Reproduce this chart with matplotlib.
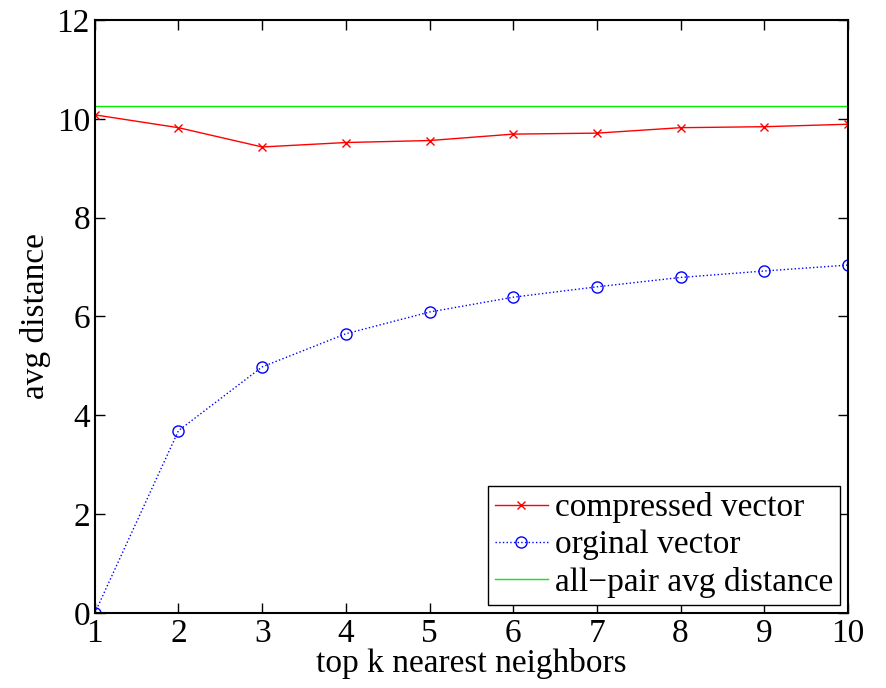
import numpy as np
import matplotlib
matplotlib.use("Agg")
import matplotlib.pyplot as plt

# values
k = [1, 2, 3, 4, 5, 6, 7, 8, 9, 10]
compressed = [10.08, 9.82, 9.43, 9.52, 9.56, 9.69, 9.71, 9.82, 9.84, 9.89]
original = [0.0, 3.69, 4.98, 5.65, 6.09, 6.39, 6.60, 6.79, 6.92, 7.04]
all_pair = 10.26

plt.rcParams['font.family'] = ['Liberation Serif', 'DejaVu Serif']

fig = plt.figure(figsize=(8.86, 6.88), dpi=100)
ax = fig.add_axes([0.107, 0.109, 0.85, 0.862])

ax.plot(k, compressed, color='red', marker='x', markersize=6, linewidth=1,
        label='compressed vector')
ax.plot(k, original, color='blue', linestyle=':', marker='o', markersize=8,
        markerfacecolor='none', linewidth=1, label='orginal vector')
ax.plot([k[0], k[-1]], [all_pair, all_pair], color='#00ee00', linewidth=1,
        label='all\u2212pair avg distance')

ax.set_xlim(1, 10)
ax.set_ylim(0, 12)
ax.set_xticks(k)
ax.set_yticks(np.arange(0, 13, 2))
ax.tick_params(direction='in', top=True, right=True, labelsize=24, length=7, width=1)
ax.tick_params(axis='x', pad=4)
for s in ax.spines.values():
    s.set_linewidth(1.5)

ax.set_xlabel('top k nearest neighbors', fontsize=24, labelpad=-1)
ax.set_ylabel('avg distance', fontsize=24, labelpad=4)

leg = ax.legend(loc='lower right', fontsize=24, fancybox=False, framealpha=1,
                edgecolor='black', handlelength=1.6, handletextpad=0.2,
                borderpad=0.2, labelspacing=0.2, borderaxespad=0.25)
leg.get_frame().set_linewidth(1)

fig.savefig('out.png', dpi=100)
